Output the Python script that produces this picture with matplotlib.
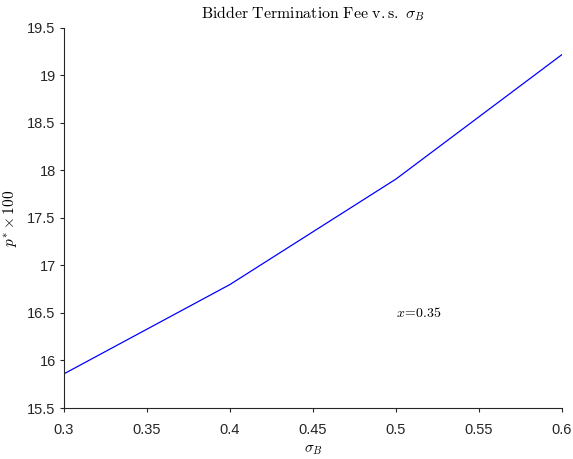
import matplotlib
matplotlib.use("Agg")
import matplotlib.pyplot as plt

sigma_B = [0.3, 0.4, 0.5, 0.6]
fee = [15.86, 16.80, 17.91, 19.22]
xticks = [0.3, 0.35, 0.4, 0.45, 0.5, 0.55, 0.6]
yticks = [15.5, 16, 16.5, 17, 17.5, 18, 18.5, 19, 19.5]

plt.rcParams['mathtext.fontset'] = 'cm'
plt.rcParams['font.family'] = ['Liberation Sans', 'DejaVu Sans']

fig = plt.figure(figsize=(5.73, 4.59), dpi=100)
ax = fig.add_axes([0.1117, 0.1111, 0.8691, 0.828])
ax.plot(sigma_B, fee, color='#0000ff', linewidth=0.9)
ax.set_xlim(0.3, 0.6)
ax.set_ylim(15.5, 19.5)
ax.set_xticks(xticks)
ax.set_xticklabels([f"{t:g}" for t in xticks])
ax.set_yticks(yticks)
ax.set_yticklabels([f"{t:g}" for t in yticks])
for s in ['top', 'right']:
    ax.spines[s].set_visible(False)
for s in ['left', 'bottom']:
    ax.spines[s].set_color('#262626')
    ax.spines[s].set_linewidth(0.8)
ax.tick_params(direction='out', length=3, width=0.8, colors='#262626', labelsize=10.5, pad=3)
ax.tick_params(axis='x', pad=8)
ax.set_title(r'$\mathrm{Bidder\ Termination\ Fee\ v.s.\ }\sigma_B$', fontsize=11.4, pad=7)
ax.set_xlabel(r'$\sigma_B$', fontsize=11, labelpad=4)
ax.set_ylabel(r'$p^{*}\times 100$', fontsize=11, labelpad=6)
ax.text(0.5, 16.5, r'$x\!=\!0.35$', fontsize=10, ha='left', va='center')
fig.savefig('out.png', dpi=100)
